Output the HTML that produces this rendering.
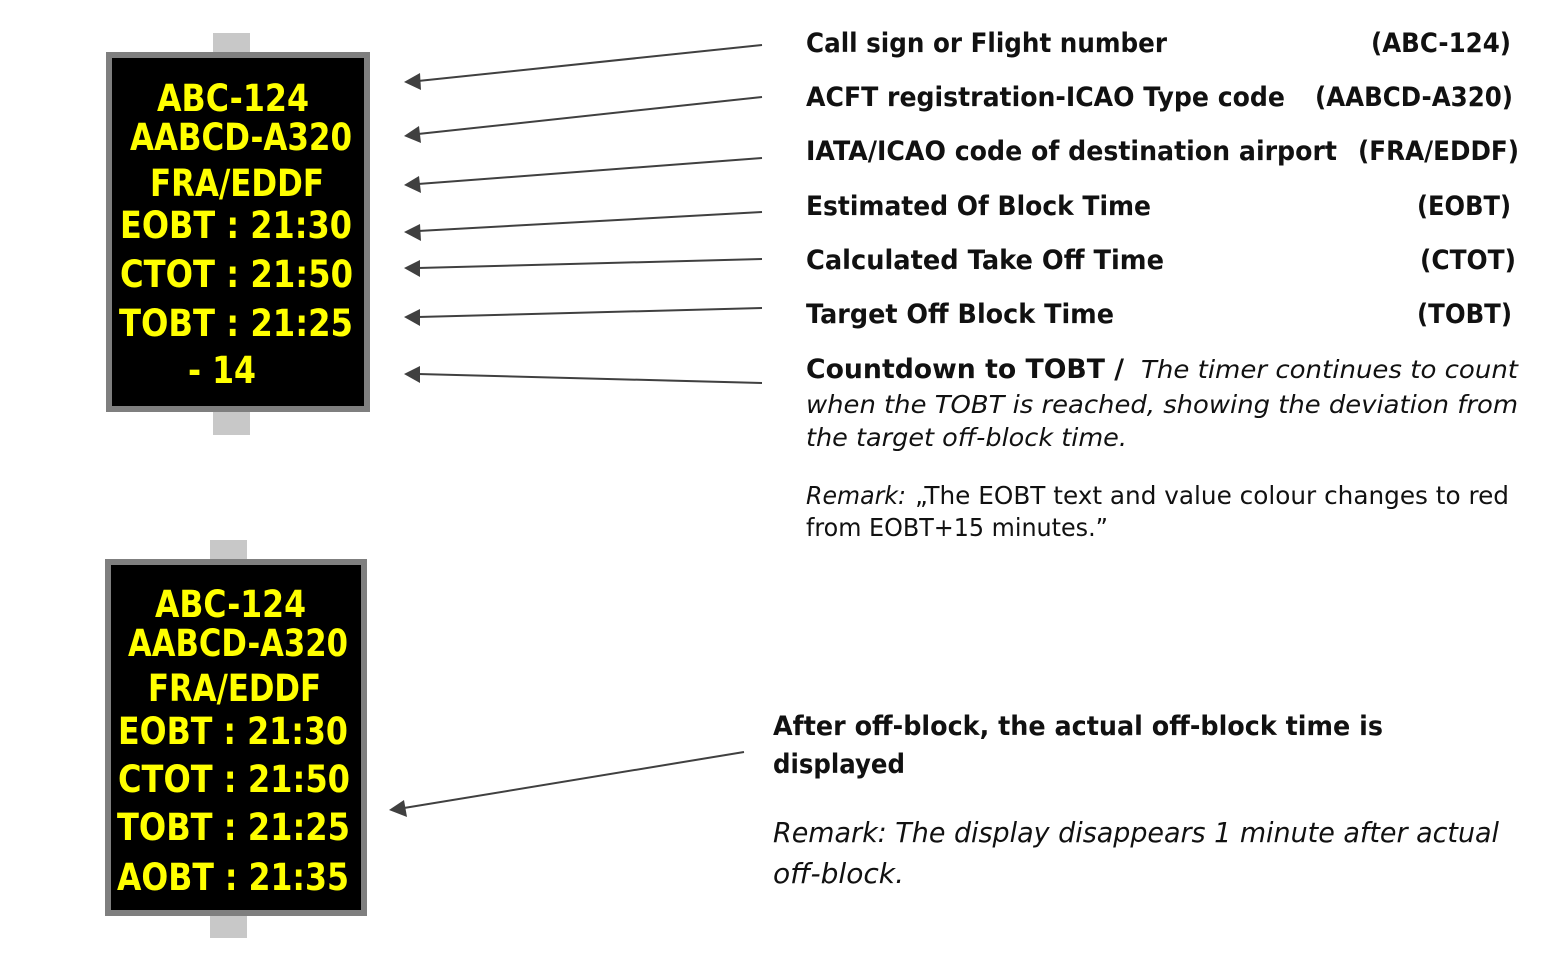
<!DOCTYPE html>
<html><head><meta charset="utf-8"><style>
html,body{margin:0;padding:0;background:#fff;}
svg{display:block;}
.d{font-family:"DejaVu Sans","Liberation Sans",sans-serif;font-weight:bold;font-size:37px;fill:#ffff00;}
.t{font-family:"DejaVu Sans","Liberation Sans",sans-serif;font-size:27px;fill:#111;}
.b{font-weight:bold;}
.i{font-style:italic;}
</style></head><body>
<svg width="1558" height="972" viewBox="0 0 1558 972" xmlns="http://www.w3.org/2000/svg">
<defs><marker id="ah" markerWidth="16" markerHeight="16" refX="16" refY="8" orient="auto" markerUnits="userSpaceOnUse"><path d="M0,0 L16,8 L0,16 Z" fill="#404040" transform="rotate(180 8 8)"/></marker></defs>
<!-- top display -->
<rect x="213" y="33" width="37" height="22" fill="#c8c8c8"/>
<rect x="213" y="408" width="37" height="27" fill="#c8c8c8"/>
<rect x="106" y="52" width="264" height="360" fill="#7f7f7f"/>
<rect x="112" y="58" width="252" height="348" fill="#000"/>
<text class="d" x="157" y="111" textLength="152" lengthAdjust="spacingAndGlyphs">ABC-124</text>
<text class="d" x="130" y="150" textLength="222" lengthAdjust="spacingAndGlyphs">AABCD-A320</text>
<text class="d" x="150" y="196" textLength="174" lengthAdjust="spacingAndGlyphs">FRA/EDDF</text>
<text class="d" x="120" y="238" textLength="232" lengthAdjust="spacingAndGlyphs">EOBT : 21:30</text>
<text class="d" x="120" y="287" textLength="233" lengthAdjust="spacingAndGlyphs">CTOT : 21:50</text>
<text class="d" x="119" y="336" textLength="234" lengthAdjust="spacingAndGlyphs">TOBT : 21:25</text>
<text class="d" x="188" y="383" textLength="68" lengthAdjust="spacingAndGlyphs">- 14</text>
<!-- bottom display -->
<rect x="210" y="540" width="37" height="22" fill="#c8c8c8"/>
<rect x="210" y="912" width="37" height="26" fill="#c8c8c8"/>
<rect x="105" y="559" width="262" height="357" fill="#7f7f7f"/>
<rect x="111" y="565" width="250" height="345" fill="#000"/>
<text class="d" x="155" y="617" textLength="151" lengthAdjust="spacingAndGlyphs">ABC-124</text>
<text class="d" x="128" y="656" textLength="220" lengthAdjust="spacingAndGlyphs">AABCD-A320</text>
<text class="d" x="148" y="701" textLength="173" lengthAdjust="spacingAndGlyphs">FRA/EDDF</text>
<text class="d" x="118" y="744" textLength="230" lengthAdjust="spacingAndGlyphs">EOBT : 21:30</text>
<text class="d" x="118" y="792" textLength="232" lengthAdjust="spacingAndGlyphs">CTOT : 21:50</text>
<text class="d" x="117" y="840" textLength="233" lengthAdjust="spacingAndGlyphs">TOBT : 21:25</text>
<text class="d" x="117" y="890" textLength="232" lengthAdjust="spacingAndGlyphs">AOBT : 21:35</text>
<!-- arrows -->
<g stroke="#404040" stroke-width="2" fill="none">
<line x1="762" y1="45" x2="418" y2="81"/>
<line x1="762" y1="97" x2="418" y2="134"/>
<line x1="762" y1="158" x2="418" y2="184"/>
<line x1="762" y1="212" x2="418" y2="231"/>
<line x1="762" y1="259" x2="418" y2="268"/>
<line x1="762" y1="308" x2="418" y2="317"/>
<line x1="762" y1="383" x2="418" y2="374"/>
<line x1="744" y1="752" x2="404" y2="808"/>
</g>
<g fill="#404040">
<path d="M404,82 L420,73 L421,90 Z"/>
<path d="M404,136 L419,126 L421,143 Z"/>
<path d="M404,185 L419,176 L421,193 Z"/>
<path d="M404,232 L420,224 L421,241 Z"/>
<path d="M404,268 L420,260 L420,277 Z"/>
<path d="M404,317 L420,309 L420,326 Z"/>
<path d="M404,374 L420,366 L420,383 Z"/>
<path d="M389,810 L404,800 L407,817 Z"/>
</g>
<!-- labels -->
<g class="t b">
<text x="806" y="52" textLength="361" lengthAdjust="spacingAndGlyphs">Call sign or Flight number</text>
<text x="1371" y="52" textLength="140" lengthAdjust="spacingAndGlyphs">(ABC-124)</text>
<text x="806" y="106" textLength="479" lengthAdjust="spacingAndGlyphs">ACFT registration-ICAO Type code</text>
<text x="1315" y="106" textLength="198" lengthAdjust="spacingAndGlyphs">(AABCD-A320)</text>
<text x="806" y="160" textLength="531" lengthAdjust="spacingAndGlyphs">IATA/ICAO code of destination airport</text>
<text x="1358" y="160" textLength="161" lengthAdjust="spacingAndGlyphs">(FRA/EDDF)</text>
<text x="806" y="215" textLength="345" lengthAdjust="spacingAndGlyphs">Estimated Of Block Time</text>
<text x="1417" y="215" textLength="94" lengthAdjust="spacingAndGlyphs">(EOBT)</text>
<text x="806" y="269" textLength="358" lengthAdjust="spacingAndGlyphs">Calculated Take Off Time</text>
<text x="1420" y="269" textLength="96" lengthAdjust="spacingAndGlyphs">(CTOT)</text>
<text x="806" y="323" textLength="308" lengthAdjust="spacingAndGlyphs">Target Off Block Time</text>
<text x="1417" y="323" textLength="95" lengthAdjust="spacingAndGlyphs">(TOBT)</text>
<text x="806" y="378" textLength="318" lengthAdjust="spacingAndGlyphs">Countdown to TOBT /</text>
<text x="773" y="735" textLength="610" lengthAdjust="spacingAndGlyphs">After off-block, the actual off-block time is</text>
<text x="773" y="773" textLength="132" lengthAdjust="spacingAndGlyphs">displayed</text>
</g>
<g class="t i" style="font-size:25px">
<text x="1141" y="378" textLength="377" lengthAdjust="spacingAndGlyphs">The timer continues to count</text>
<text x="806" y="413" textLength="712" lengthAdjust="spacingAndGlyphs">when the TOBT is reached, showing the deviation from</text>
<text x="806" y="446" textLength="321" lengthAdjust="spacingAndGlyphs">the target off-block time.</text>
<text x="806" y="504" textLength="100" lengthAdjust="spacingAndGlyphs">Remark:</text>
</g>
<g class="t" style="font-size:25px">
<text x="915" y="504" textLength="594" lengthAdjust="spacingAndGlyphs">„The EOBT text and value colour changes to red</text>
<text x="806" y="536" textLength="302" lengthAdjust="spacingAndGlyphs">from EOBT+15 minutes.”</text>
</g>
<g class="t i" style="font-size:28px">
<text x="773" y="842" textLength="726" lengthAdjust="spacingAndGlyphs">Remark: The display disappears 1 minute after actual</text>
<text x="773" y="883" textLength="131" lengthAdjust="spacingAndGlyphs">off-block.</text>
</g>
</svg>
</body></html>
